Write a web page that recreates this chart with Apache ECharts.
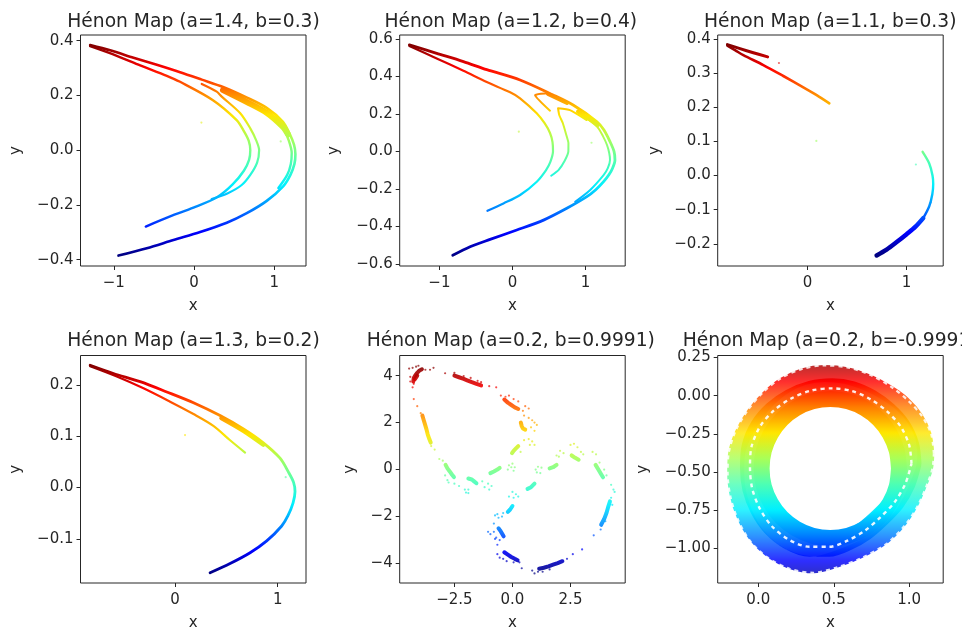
<!DOCTYPE html>
<html><head><meta charset="utf-8">
<style>html,body{margin:0;padding:0;background:#fff}#c{width:962px;height:632px}</style>
<script src="https://cdn.jsdelivr.net/npm/echarts@6/dist/echarts.min.js"></script>
</head><body><div id="c"></div>
<script>
// ---------- values ----------
const titles = ['Hénon Map (a=1.4, b=0.3)','Hénon Map (a=1.2, b=0.4)','Hénon Map (a=1.1, b=0.3)','Hénon Map (a=1.3, b=0.2)','Hénon Map (a=0.2, b=0.9991)','Hénon Map (a=0.2, b=-0.9991)'];
const xTicks = [[-1,0,1],[-1,0,1],[0,1],[0,1],[-2.5,0,2.5],[0,0.5,1]];
const yTicks = [[-0.4,-0.2,0,0.2,0.4],[-0.6,-0.4,-0.2,0,0.2,0.4,0.6],[-0.2,-0.1,0,0.1,0.2,0.3,0.4],[-0.1,0,0.1,0.2],[-4,-2,0,2,4],[-1,-0.75,-0.5,-0.25,0,0.25]];
const xDecimals = [0,0,0,0,1,1];
const yDecimals = [1,1,1,1,0,2];
const xRanges = [[-1.415,1.394],[-1.543,1.543],[-0.909,1.370],[-0.922,1.276],[-4.856,4.856],[-0.269,1.225]];
const yRanges = [[-0.423,0.421],[-0.612,0.621],[-0.265,0.411],[-0.186,0.257],[-4.828,4.856],[-1.227,0.263]];
const colorRanges = [[-0.385,0.385],[-0.56,0.568],[-0.235,0.383],[-0.168,0.238],[-4.42,4.42],[-1.25,0.26]];

const a14Outer = [[-1.295,0.384],[-1.046,0.365],[-0.755,0.338],[-0.465,0.312],[-0.175,0.285],[0.095,0.258],[0.36,0.231],[0.659,0.192],[0.908,0.154],[1.107,0.104],[1.19,0.06],[1.245,0.02],[1.262,-0.015],[1.25,-0.05],[1.2,-0.09],[1.112,-0.131],[0.905,-0.185],[0.656,-0.230],[0.407,-0.265],[0.075,-0.299],[-0.257,-0.328],[-0.589,-0.358],[-0.942,-0.385]];
const a14Band = [[0.36,0.22],[0.659,0.176],[0.908,0.136],[1.107,0.085],[1.17,0.058]];
const a14Second = [[1.107,0.085],[1.18,0.035],[1.216,-0.01],[1.205,-0.05],[1.16,-0.09],[1.05,-0.138]];
const a14Inner = [[-1.295,0.380],[-0.963,0.345],[-0.672,0.31],[-0.34,0.272],[-0.175,0.250],[0.235,0.183],[0.53,0.11],[0.62,0.07],[0.68,0.035],[0.70,0.0],[0.685,-0.035],[0.62,-0.075],[0.48,-0.125],[0.285,-0.172],[-0.008,-0.21],[-0.299,-0.242],[-0.602,-0.279]];
const a14Hairpin = [[0.095,0.242],[0.282,0.214],[0.344,0.196],[0.572,0.136],[0.70,0.08],[0.775,0.035],[0.81,0.0],[0.785,-0.045],[0.70,-0.09],[0.593,-0.127],[0.42,-0.157],[0.22,-0.178]];
const a14Stray = [[0.091,0.101],[1.079,0.032]];

const a12Outer = [[-1.411,0.568],[-1.037,0.523],[-0.671,0.479],[-0.352,0.436],[0.104,0.381],[0.556,0.301],[0.83,0.247],[1.157,0.158],[1.25,0.115],[1.335,0.052],[1.39,0.0],[1.403,-0.046],[1.37,-0.09],[1.32,-0.125],[1.247,-0.162],[1.14,-0.205],[1.018,-0.242],[0.744,-0.304],[0.425,-0.367],[0.059,-0.420],[-0.306,-0.470],[-0.580,-0.509],[-0.817,-0.555]];
const a12Second = [[0.897,0.212],[1.157,0.132],[1.24,0.08],[1.294,0.034],[1.325,-0.01],[1.335,-0.046],[1.305,-0.09],[1.247,-0.127],[1.064,-0.206],[0.858,-0.269]];
const a12PatchA = [[0.487,0.306],[0.747,0.258]];
const a12PatchB = [[0.897,0.212],[1.17,0.141]];
const a12Inner = [[-1.411,0.562],[-1.037,0.496],[-0.671,0.43],[-0.352,0.37],[-0.032,0.315],[0.104,0.283],[0.332,0.203],[0.44,0.15],[0.514,0.098],[0.548,0.05],[0.555,0.0],[0.52,-0.055],[0.46,-0.1],[0.333,-0.162],[0.105,-0.233],[-0.123,-0.278],[-0.342,-0.317]];
const a12HookA = [[0.514,0.217],[0.31,0.3],[0.487,0.31],[0.69,0.265]];
const a12HookB = [[1.016,0.167],[0.787,0.22],[0.624,0.23],[0.64,0.194],[0.69,0.15],[0.735,0.09],[0.766,0.044],[0.765,0.0],[0.715,-0.05],[0.63,-0.1],[0.53,-0.13]];
const a12Stray = [[0.087,0.105],[1.082,0.046]];

const a11Upper = [[-0.811,0.383],[-0.684,0.371],[-0.549,0.359],[-0.404,0.347]];
const a11Lower = [[-0.811,0.380],[-0.73,0.366],[-0.65,0.352],[-0.448,0.323],[-0.246,0.291],[-0.044,0.258],[0.091,0.235],[0.219,0.211]];
const a11Right = [[1.162,0.069],[1.229,0.035],[1.262,0.0],[1.269,-0.025],[1.26,-0.055],[1.229,-0.09],[1.168,-0.125]];
const a11Bottom = [[1.168,-0.125],[1.09,-0.15],[1.0,-0.172],[0.9,-0.195],[0.798,-0.217],[0.697,-0.234]];
const a11Stray = [[-0.290,0.329],[0.088,0.101],[1.094,0.032],[1.246,-0.079]];

const a13Outer = [[-0.828,0.238],[-0.601,0.222],[-0.341,0.206],[-0.081,0.186],[0.179,0.165],[0.438,0.140],[0.666,0.114],[0.860,0.087],[1.023,0.057],[1.105,0.03],[1.155,0.01],[1.169,-0.008],[1.15,-0.03],[1.10,-0.055],[1.039,-0.075],[0.893,-0.104],[0.731,-0.127],[0.536,-0.148],[0.341,-0.166]];
const a13Inner = [[-0.828,0.236],[-0.568,0.216],[-0.308,0.193],[-0.049,0.167],[0.179,0.143],[0.373,0.120],[0.536,0.092],[0.682,0.068]];
const a13Thick = [[0.45,0.135],[0.666,0.110],[0.86,0.083]];
const a13Stray = [[0.097,0.102],[1.078,0.020]];

const b9991Blobs = [
[[-4.27,3.75],[-4.25,3.9],[-4.18,4.02],[-4.1,4.12],[-4.0,4.22],[-3.9,4.27]],
[[-4.2,3.85],[-4.1,4.0]],
[[-2.5,4.0],[-2.3,3.93],[-2.1,3.86],[-1.95,3.8],[-1.75,3.72],[-1.55,3.65],[-1.35,3.58]],
[[-0.35,2.98],[-0.2,2.85],[-0.05,2.75],[0.1,2.65],[0.25,2.58]],
[[0.36,2.0],[0.4,1.85],[0.45,1.75],[0.55,1.7]],
[[-3.88,2.3],[-3.82,2.1],[-3.76,1.9],[-3.7,1.7],[-3.65,1.5],[-3.58,1.3],[-3.52,1.15]],
[[-0.02,0.7],[0.05,0.8],[0.15,0.9],[0.25,1.0]],
[[-2.88,0.2],[-2.8,0.05],[-2.7,-0.08],[-2.6,-0.22],[-2.52,-0.32]],
[[-1.9,-0.38],[-1.75,-0.42],[-1.65,-0.5],[-1.55,-0.58]],
[[-0.95,-0.15],[-0.8,-0.08],[-0.65,0.0],[-0.55,0.07]],
[[1.6,0.05],[1.75,0.1],[1.9,0.2]],
[[2.55,0.6],[2.7,0.5],[2.85,0.42]],
[[3.58,0.2],[3.7,0.0],[3.82,-0.2],[3.9,-0.33]],
[[4.2,-1.35],[4.12,-1.6],[4.05,-1.85],[3.95,-2.1],[3.82,-2.35]],
[[0.65,-0.82],[0.8,-0.75],[0.95,-0.6]],
[[-0.2,-1.8],[-0.1,-1.7],[0.0,-1.55]],
[[-0.6,-2.5],[-0.52,-2.6],[-0.45,-2.72],[-0.38,-2.84]],
[[-0.35,-3.52],[-0.2,-3.62],[-0.05,-3.72],[0.1,-3.8],[0.22,-3.86]],
[[1.15,-4.22],[1.35,-4.18],[1.55,-4.12],[1.75,-4.05],[1.95,-3.98],[2.15,-3.9]]
];
const b9991Sparse = [[-4.45,4.3],[-4.3,4.33],[-4.15,4.38],[-4.05,4.42],[-3.75,4.25],[-3.55,4.25],[-3.4,4.33],[-4.4,3.95],[-4.4,3.75],[-4.3,3.5],[-4.25,3.65],[-4.25,3.0],[-4.1,2.7],
[-2.9,4.1],[-2.5,4.12],[-2.1,3.98],[-1.8,3.9],[-1.5,3.78],[-1.35,3.72],[-1.0,3.55],[-0.7,3.5],
[-0.5,3.15],[-0.3,3.1],[-0.15,3.15],[0.05,3.0],[0.25,2.9],[0.55,2.7],[0.7,2.6],[0.45,2.5],
[0.5,2.3],[0.7,2.2],[0.85,2.1],[0.95,2.0],[1.05,1.9],[0.8,1.8],[0.95,1.65],
[-3.95,2.4],[-3.5,1.0],[-3.35,0.85],
[0.5,1.25],[0.7,1.3],[0.85,1.2],[0.75,1.05],[0.95,1.05],[0.35,0.75],
[-3.15,0.45],[-3.0,0.38],[-2.8,-0.45],[-2.9,-0.25],[-2.75,-0.55],[-2.5,-0.6],[-2.3,-0.7],[-2.05,-0.85],[-2.0,-0.98],[-1.9,-1.0],[-1.9,-0.85],[-1.3,-0.5],[-1.2,-0.75],[-1.05,-0.6],[-1.0,-0.85],[-0.9,-0.7],
[-0.2,0.0],[-0.15,0.18],[0.0,0.25],[0.1,0.1],[0.05,-0.05],[-0.05,0.1],
[1.0,0.0],[1.1,0.12],[1.25,0.08],[1.2,-0.15],[1.05,-0.12],
[1.9,0.6],[2.05,0.8],[2.2,0.7],[2.0,0.55],[2.5,1.05],[2.65,1.1],[2.8,0.95],[2.95,0.75],[3.05,0.65],
[3.45,0.75],[3.6,0.65],[3.75,0.3],[3.95,0.0],[4.05,-0.25],[4.25,-0.65],[4.4,-0.95],[4.35,-0.85],
[0.0,-0.95],[0.15,-1.05],[0.25,-1.15],[-0.15,-1.15],[0.05,-1.2],
[-0.65,-1.9],[-0.75,-1.95],[-0.6,-2.05],[-0.45,-2.0],[-0.4,-1.85],
[-1.05,-2.65],[-0.95,-2.75],[-0.8,-2.65],[-0.8,-2.3],[-0.75,-2.95],[-0.65,-3.2],[-0.7,-2.9],[-0.55,-3.0],
[-0.65,-3.6],[-0.55,-3.75],[-0.4,-3.8],[-0.25,-3.9],[0.05,-3.95],[0.3,-3.95],[0.4,-4.2],
[0.85,-4.3],[0.95,-4.42],[1.1,-4.35],[1.3,-4.35],[1.6,-4.25],[2.35,-3.8],[2.6,-3.6],[3.0,-3.4],
[3.5,-2.8],[3.8,-2.55],[4.0,-2.2],[4.25,-1.2],[4.3,-1.5]];

const ringEdge = [[1.163,-0.38],[1.145,-0.25],[1.085,-0.135],[0.995,-0.035],[0.885,0.055],[0.745,0.135],[0.590,0.185],[0.440,0.198],[0.290,0.175],[0.150,0.115],[0.030,0.020],[-0.070,-0.095],[-0.150,-0.230],[-0.195,-0.370],[-0.203,-0.510],[-0.185,-0.660],[-0.140,-0.800],[-0.060,-0.945],[0.060,-1.060],[0.210,-1.135],[0.365,-1.160],[0.520,-1.125],[0.680,-1.065],[0.850,-0.970],[0.975,-0.845],[1.060,-0.715],[1.125,-0.565],[1.155,-0.47]];
const ringOuterBand = [[1.110,-0.38],[1.092,-0.26],[1.038,-0.150],[0.955,-0.055],[0.850,0.020],[0.725,0.085],[0.580,0.132],[0.440,0.145],[0.300,0.125],[0.175,0.068],[0.065,-0.020],[-0.025,-0.125],[-0.100,-0.250],[-0.143,-0.375],[-0.150,-0.510],[-0.133,-0.650],[-0.090,-0.780],[-0.015,-0.910],[0.095,-1.015],[0.225,-1.082],[0.365,-1.108],[0.510,-1.073],[0.660,-1.015],[0.820,-0.925],[0.935,-0.810],[1.012,-0.690],[1.072,-0.555],[1.102,-0.47]];
const ringChevrons = [[1.015,-0.445],[1.000,-0.325],[0.945,-0.205],[0.855,-0.105],[0.745,-0.025],[0.620,0.030],[0.490,0.048],[0.350,0.033],[0.215,-0.020],[0.100,-0.100],[0.010,-0.205],[-0.045,-0.335],[-0.055,-0.470],[-0.040,-0.610],[0.010,-0.740],[0.090,-0.855],[0.205,-0.945],[0.340,-0.990],[0.470,-0.990],[0.590,-0.950],[0.705,-0.885],[0.810,-0.795],[0.905,-0.695],[0.975,-0.575]];
const ringInnerBand = [[0.932,-0.477],[0.917,-0.359],[0.871,-0.249],[0.799,-0.155],[0.705,-0.083],[0.595,-0.037],[0.477,-0.022],[0.359,-0.037],[0.249,-0.083],[0.155,-0.155],[0.083,-0.249],[0.037,-0.359],[0.022,-0.477],[0.037,-0.595],[0.083,-0.705],[0.155,-0.799],[0.249,-0.871],[0.359,-0.917],[0.477,-0.932],[0.595,-0.917],[0.705,-0.871],[0.799,-0.799],[0.871,-0.705],[0.917,-0.595]];

const curves = [
 [0,a14Outer,2.6],[0,a14Band,6],[0,a14Second,2.4],[0,a14Inner,2.4],[0,a14Hairpin,2.2],
 [1,a12Outer,2.8],[1,a12Second,2],[1,a12PatchA,4],[1,a12PatchB,4],[1,a12Inner,2.2],[1,a12HookA,2],[1,a12HookB,2],
 [2,a11Upper,3],[2,a11Lower,2.6],[2,a11Right,2.4],[2,a11Bottom,4.5],
 [3,a13Outer,2.8],[3,a13Inner,2.2],[3,a13Thick,4]
];
const strays = [[0,a14Stray],[1,a12Stray],[2,a11Stray],[3,a13Stray]];
const rings = [[ringOuterBand,17,0.82],[ringChevrons,20,0.95],[ringInnerBand,16,1]];

// ---------- jet colour map ----------
const jet = ['#00007f','#0000ff','#0080ff','#00f0ff','#4dffb3','#a9ff57','#ffe600','#ff7d00','#ff0000','#7f0000'];

// ---------- layout ----------
const frames = [[80.5,35,225.5,231],[399.7,35,225.5,231],[717.7,35,225.5,231],[80.5,355.5,225.5,230],[399.7,355.5,225.5,230],[717.7,355.5,225.5,230]];
const titleCentres = [193.5,510.8,830.2,193.5,510.8,830.2];
const titleTops = [10,10,10,329,329,329];
const yNameGaps = [57,58,55,57,42,67];
const fam = '"DejaVu Sans"', ink = '#262626';

const series = [];
const perPanel = [[],[],[],[],[],[]];
function add(p, s, mapped){ s.xAxisIndex=p; s.yAxisIndex=p; s.silent=true; s.animation=false; if(mapped) perPanel[p].push(series.length); series.push(s); }
function curve(p, data, width, opacity, smooth){
  add(p,{type:'line',data,showSymbol:false,symbol:'none',smooth,
    lineStyle:{width,cap:'round',join:'round',opacity:opacity||1}},true);
}
function dots(p, data, size, opacity){
  add(p,{type:'scatter',data,symbolSize:size,itemStyle:{opacity}},true);
}
const hooks = [a12HookA,a12HookB];
curves.forEach(c=>curve(c[0],c[1],c[2],1,hooks.includes(c[1])?0.15:0.3));
strays.forEach(s=>dots(s[0],s[1],2.2,0.6));
b9991Blobs.forEach(b=>curve(4,b,4,0.9,0));
dots(4,b9991Sparse,2.2,0.7);
const closeLoop = a=>a.concat([a[0]]);
rings.forEach(r=>curve(5,closeLoop(r[0]),r[1],r[2],0.3));
add(5,{type:'line',data:closeLoop(ringChevrons),showSymbol:false,symbol:'none',smooth:0.3,lineStyle:{color:'#fff',width:2.4,type:[4,4],opacity:0.9}},false);
add(5,{type:'line',data:closeLoop(ringEdge),showSymbol:false,symbol:'none',smooth:0.3,lineStyle:{color:'#fff',width:2.2,type:[4,4],opacity:0.85}},false);

const option = {
  backgroundColor:'#fff', animation:false,
  title: titles.map((t,i)=>({text:t,left:titleCentres[i],top:titleTops[i],padding:0,textAlign:'center',
    textStyle:{fontFamily:fam,fontSize:18.7,lineHeight:24,fontWeight:'normal',color:ink}})),
  grid: frames.map(f=>({left:f[0],top:f[1],width:f[2],height:f[3],show:true,borderColor:ink,borderWidth:1,backgroundColor:'transparent',containLabel:false})),
  xAxis: frames.map((f,i)=>({type:'value',gridIndex:i,min:xRanges[i][0],max:xRanges[i][1],
    name:'x',nameLocation:'middle',nameGap:33,nameTextStyle:{fontFamily:fam,fontSize:15,color:ink},
    axisLine:{show:false,onZero:false},splitLine:{show:false},
    axisTick:{show:true,length:4,customValues:xTicks[i],lineStyle:{color:ink,width:1}},
    axisLabel:{customValues:xTicks[i],margin:9.5,fontFamily:fam,fontSize:15,color:ink,
      formatter:v=>Number(v).toFixed(xDecimals[i]).replace('-','\u2212')}})),
  yAxis: frames.map((f,i)=>({type:'value',gridIndex:i,min:yRanges[i][0],max:yRanges[i][1],
    name:'y',nameLocation:'middle',nameGap:yNameGaps[i],nameTextStyle:{fontFamily:fam,fontSize:15,color:ink},
    axisLine:{show:false,onZero:false},splitLine:{show:false},
    axisTick:{show:true,length:4,customValues:yTicks[i],lineStyle:{color:ink,width:1}},
    axisLabel:{customValues:yTicks[i],margin:7,padding:[3,0,0,0],fontFamily:fam,fontSize:15,color:ink,
      formatter:v=>Number(v).toFixed(yDecimals[i]).replace('-','\u2212')}})),
  visualMap: colorRanges.map((r,i)=>({type:'continuous',show:false,dimension:1,min:r[0],max:r[1],seriesIndex:perPanel[i],inRange:{color:jet}})),
  series
};
const chart = echarts.init(document.getElementById('c'),null,{renderer:'canvas'});
chart.setOption(option);
</script></body></html>
